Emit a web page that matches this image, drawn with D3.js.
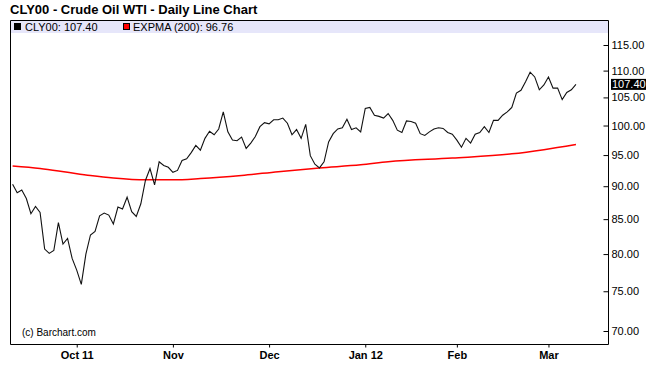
<!DOCTYPE html>
<html>
<head>
<meta charset="utf-8">
<script src="https://cdn.jsdelivr.net/npm/d3@7"></script>
<style>
  body { margin: 0; background: #fff; }
  svg { display: block; font-family: "Liberation Sans", Arial, sans-serif; }
</style>
</head>
<body>
<div id="chart"></div>
<script>
// daily closes, Sep 13 2011 .. Mar 9 2012 (trading day index 0..123)
var closes = [
  90.3, 89.0, 89.4, 88.1, 85.8, 86.9, 86.0, 80.7, 80.1, 80.5,
  84.5, 81.4, 82.2, 79.4, 77.8, 75.9, 80.0, 82.7, 83.2, 85.5,
  85.9, 85.6, 84.3, 86.8, 86.5, 88.3, 86.1, 85.4, 87.3, 90.9,
  92.8, 90.2, 93.9, 93.3, 93.0, 92.2, 92.5, 94.1, 94.4, 95.4,
  96.6, 95.8, 97.8, 99.0, 98.4, 99.4, 102.4, 98.9, 97.5, 97.4,
  98.0, 96.1, 97.0, 98.1, 99.8, 100.5, 100.3, 101.0, 101.0, 101.3,
  100.4, 98.4, 99.3, 97.8, 100.2, 94.9, 93.5, 92.9, 93.9, 97.2,
  98.6, 99.4, 99.6, 101.1, 99.3, 99.6, 98.9, 103.0, 103.2, 101.8,
  101.6, 101.3, 102.1, 100.9, 99.2, 98.8, 100.8, 100.7, 100.4, 98.6,
  98.3, 98.9, 99.4, 99.6, 99.5, 98.8, 98.5, 97.5, 96.3, 97.8,
  97.0, 98.5, 98.8, 99.8, 98.8, 100.9, 100.9, 101.8, 102.4, 103.2,
  105.8, 106.3, 107.9, 109.7, 108.8, 106.4, 107.3, 108.8, 106.7, 106.7,
  104.6, 105.9, 106.4, 107.40
];

// EXPMA(200) read at some days
var emaDays = [0, 6, 12, 17, 22, 29, 35, 41, 50, 58, 67, 76, 82, 96, 109, 116, 123];
var emaVals = [93.2, 92.8, 92.2, 91.7, 91.3, 91.0, 91.0, 91.2, 91.7, 92.3, 92.9, 93.4, 93.9, 94.5, 95.2, 95.9, 96.76];

var monthDays = [14, 35, 56, 77, 97, 117];
var monthLabels = ["Oct 11", "Nov", "Dec", "Jan 12", "Feb", "Mar"];
var yTicks = [70, 75, 80, 85, 90, 95, 100, 105, 110, 115];

var lastClose = 107.40, lastEma = 96.76;

(function () {
var width = 650, height = 386;
var plotLeft = 10, plotRight = 608, plotTop = 20, plotBottom = 344;

var svg = d3.select("#chart")
    .append("svg")
    .attr("width", width)
    .attr("height", height);

// price scale is logarithmic
var y = d3.scaleLog()
    .domain([70, 115])
    .range([331, 45]);

var x = d3.scaleLinear()
    .domain([0, 123])
    .range([12.6, 12.6 + 4.58 * 123]);

// title
svg.append("text")
    .attr("x", 10)
    .attr("y", 14)
    .attr("font-size", "13px")
    .attr("font-weight", "bold")
    .text("CLY00 - Crude Oil WTI - Daily Line Chart");

// legend band
svg.append("rect")
    .attr("x", plotLeft)
    .attr("y", plotTop)
    .attr("width", plotRight - plotLeft)
    .attr("height", 13)
    .attr("fill", "#e6e6fa");

svg.append("rect")
    .attr("x", 14).attr("y", 23)
    .attr("width", 7).attr("height", 7)
    .attr("fill", "#000");
svg.append("text")
    .attr("x", 25).attr("y", 30.5)
    .attr("font-size", "11px")
    .text("CLY00: " + lastClose.toFixed(2));

svg.append("rect")
    .attr("x", 123.5).attr("y", 23.5)
    .attr("width", 6).attr("height", 6)
    .attr("fill", "#f00")
    .attr("stroke", "#000")
    .attr("stroke-width", 1);
svg.append("text")
    .attr("x", 133).attr("y", 30.5)
    .attr("font-size", "11px")
    .text("EXPMA (200): " + lastEma.toFixed(2));

// frame
svg.append("path")
    .attr("d", "M" + (plotLeft + 0.5) + "," + (plotBottom + 0.5) + "V" + (plotTop + 0.5) +
        "H" + (plotRight + 0.5) + "V" + (plotBottom + 0.5) + "Z")
    .attr("fill", "none")
    .attr("stroke", "#000");

// right axis
var yAxis = svg.append("g")
    .attr("transform", "translate(" + (plotRight + 0.5) + ",0)")
    .call(d3.axisRight(y).tickValues(yTicks).tickSize(-5).tickPadding(8)
        .tickFormat(function(d) { return d3.format(".2f")(d); }));
yAxis.select(".domain").remove();
yAxis.selectAll("text")
    .attr("font-family", "Liberation Sans, Arial, sans-serif")
    .attr("font-size", "11px")
    .attr("fill", "#000")
    .attr("x", 3);

// last price marker
svg.append("rect")
    .attr("x", 611).attr("y", y(lastClose) - 5.5)
    .attr("width", 35).attr("height", 11)
    .attr("fill", "#000");
svg.append("text")
    .attr("x", 612).attr("y", y(lastClose))
    .attr("dy", "0.35em")
    .attr("font-size", "11px")
    .attr("fill", "#fff")
    .text(lastClose.toFixed(2));

// bottom axis
var xAxis = svg.append("g")
    .attr("transform", "translate(0," + (plotBottom + 0.5) + ")")
    .call(d3.axisBottom(x).tickValues(monthDays).tickSize(3).tickPadding(4)
        .tickFormat(function(d, i) { return monthLabels[i]; }));
xAxis.select(".domain").remove();
xAxis.selectAll("text")
    .attr("font-family", "Liberation Sans, Arial, sans-serif")
    .attr("font-size", "11px")
    .attr("font-weight", "bold")
    .attr("fill", "#000");

// EMA line
var ema = emaDays.map(function(d, i) { return [d, emaVals[i]]; });
svg.append("path")
    .datum(ema)
    .attr("fill", "none")
    .attr("stroke", "#f00")
    .attr("stroke-width", 1.5)
    .attr("d", d3.line()
        .curve(d3.curveMonotoneX)
        .x(function(d) { return x(d[0]); })
        .y(function(d) { return y(d[1]); }));

// price line
svg.append("path")
    .datum(closes)
    .attr("fill", "none")
    .attr("stroke", "#111")
    .attr("stroke-width", 1.1)
    .attr("d", d3.line()
        .x(function(d, i) { return x(i); })
        .y(function(d) { return y(d); }));

svg.append("text")
    .attr("x", 22).attr("y", 336)
    .attr("font-size", "10px")
    .text("(c) Barchart.com");
})();
</script>
</body>
</html>
